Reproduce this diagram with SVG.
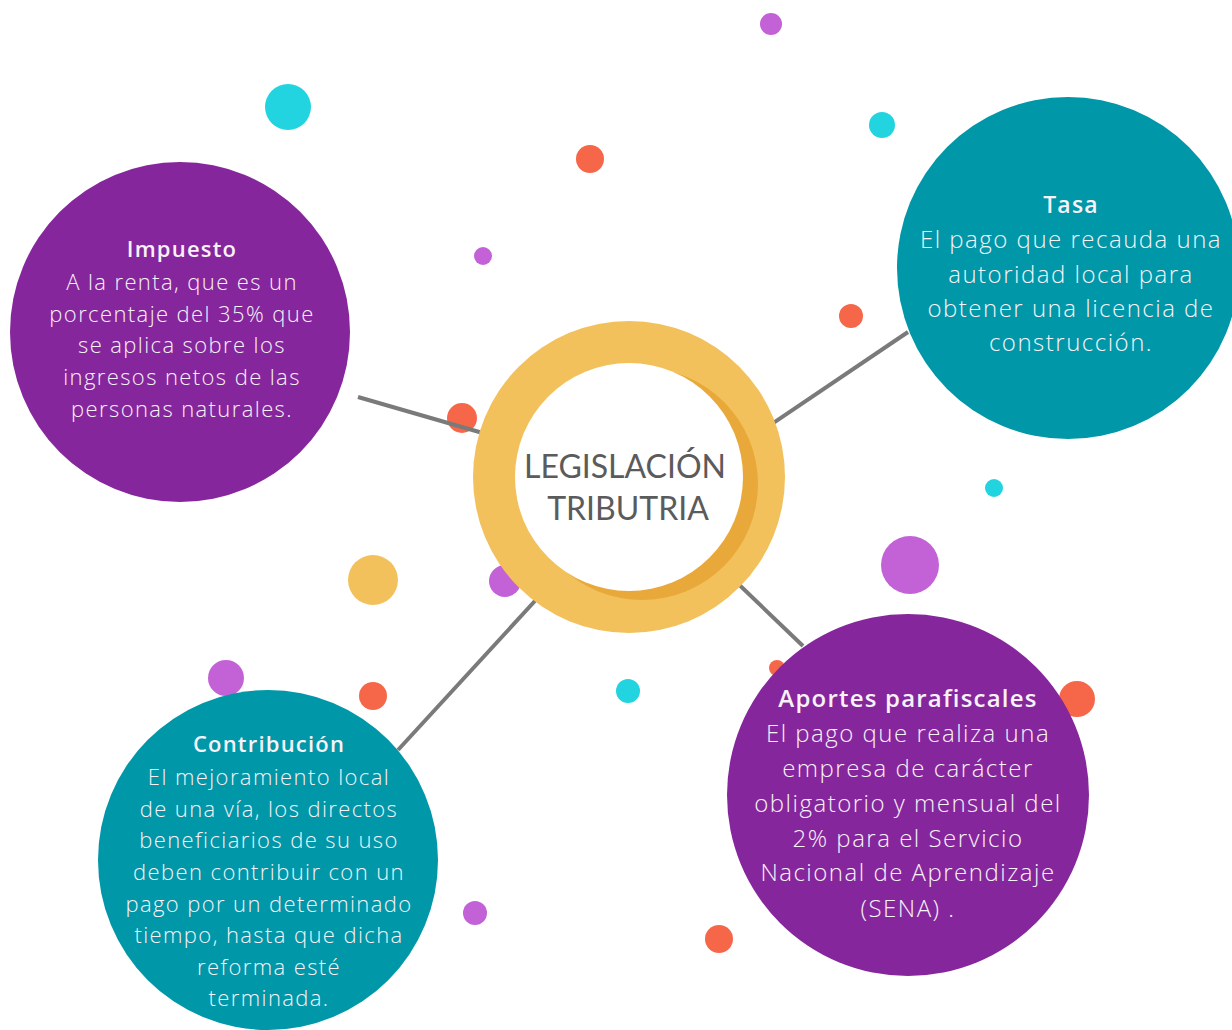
<svg xmlns="http://www.w3.org/2000/svg" width="1232" height="1030" viewBox="0 0 1232 1030">
  <style>
    .conn { stroke: #7a7a7a; stroke-width: 4; fill: none; }
    .dot-o { fill: #f6674a; }
    .dot-p { fill: #c262d6; }
    .dot-c { fill: #22d4e0; }
    .dot-y { fill: #f3c15c; }
    .node-p { fill: #86269c; }
    .node-t { fill: #0097a8; }
    .title { font-family: "Open Sans", "Lato", sans-serif; font-weight: 600; fill: #f7f2f8; text-anchor: middle; letter-spacing: 1.2px; }
    .body { font-family: "Open Sans", "Lato", sans-serif; font-weight: 300; fill: #f7f2f8; text-anchor: middle; }
    .sm { font-size: 22px; letter-spacing: 1.4px; }
    .lg { font-size: 24px; letter-spacing: 1.5px; }
    .center { font-family: "Lato", "Open Sans", sans-serif; font-weight: 400; fill: #5b5b5b; text-anchor: middle; font-size: 32px; }
  </style>
  <rect width="1232" height="1030" fill="#ffffff"/>

  <!-- dots drawn beneath the connectors and nodes -->
  <g id="dots-back">
    <circle class="dot-p" cx="505" cy="581" r="16"/>
    <circle class="dot-o" cx="462" cy="418" r="15"/>
    <circle class="dot-p" cx="226" cy="678" r="18"/>
    <circle class="dot-o" cx="777" cy="668" r="8"/>
    <circle class="dot-o" cx="1077" cy="699" r="18"/>
  </g>

  <g id="connectors">
    <line class="conn" x1="358" y1="397" x2="500" y2="438"/>
    <line class="conn" x1="908" y1="332" x2="760" y2="432"/>
    <line class="conn" x1="398" y1="750" x2="545" y2="590"/>
    <line class="conn" x1="803" y1="646" x2="730" y2="576"/>
  </g>

  <g id="dots">
    <circle class="dot-p" cx="771" cy="24" r="11"/>
    <circle class="dot-c" cx="288" cy="107" r="23"/>
    <circle class="dot-c" cx="882" cy="125" r="13"/>
    <circle class="dot-o" cx="590" cy="159" r="14"/>
    <circle class="dot-p" cx="483" cy="256" r="9"/>
    <circle class="dot-o" cx="851" cy="316" r="12"/>
    <circle class="dot-c" cx="994" cy="488" r="9"/>
    <circle class="dot-p" cx="910" cy="565" r="29"/>
    <circle class="dot-y" cx="373" cy="580" r="25"/>
    <circle class="dot-o" cx="373" cy="696" r="14"/>
    <circle class="dot-c" cx="628" cy="691" r="12"/>
    <circle class="dot-p" cx="475" cy="913" r="12"/>
    <circle class="dot-o" cx="719" cy="939" r="14"/>
  </g>

  <g id="node-center">
    <circle cx="629" cy="477" r="156" fill="#f3c15c"/>
    <circle cx="642" cy="484" r="116" fill="#e9a93a"/>
    <circle cx="629" cy="477" r="114" fill="#ffffff"/>
    <text class="center" x="625" y="478">LEGISLACIÓN</text>
    <text class="center" x="628" y="520">TRIBUTRIA</text>
  </g>

  <g id="node-impuesto">
    <circle class="node-p" cx="180" cy="332" r="170"/>
    <text class="title" x="182" y="257" font-size="22">Impuesto</text>
    <g class="body sm">
      <text x="182" y="290">A la renta, que es un</text>
      <text x="182" y="322">porcentaje del 35% que</text>
      <text x="182" y="353">se aplica sobre los</text>
      <text x="182" y="385">ingresos netos de las</text>
      <text x="182" y="417">personas naturales.</text>
    </g>
  </g>

  <g id="node-tasa">
    <circle class="node-t" cx="1068" cy="268" r="171"/>
    <text class="title" x="1071" y="213" font-size="23">Tasa</text>
    <g class="body lg">
      <text x="1071" y="248">El pago que recauda una</text>
      <text x="1071" y="283">autoridad local para</text>
      <text x="1071" y="317">obtener una licencia de</text>
      <text x="1071" y="351">construcción.</text>
    </g>
  </g>

  <g id="node-aportes">
    <circle class="node-p" cx="908" cy="795" r="181"/>
    <text class="title" x="908" y="707" font-size="24">Aportes parafiscales</text>
    <g class="body lg">
      <text x="908" y="742">El pago que realiza una</text>
      <text x="908" y="777">empresa de carácter</text>
      <text x="908" y="812">obligatorio y mensual del</text>
      <text x="908" y="847">2% para el Servicio</text>
      <text x="908" y="881">Nacional de Aprendizaje</text>
      <text x="908" y="917">(SENA) .</text>
    </g>
  </g>

  <g id="node-contribucion">
    <circle class="node-t" cx="268" cy="860" r="170"/>
    <text class="title" x="269" y="752" font-size="22">Contribución</text>
    <g class="body sm">
      <text x="269" y="785">El mejoramiento local</text>
      <text x="269" y="817">de una vía, los directos</text>
      <text x="269" y="848">beneficiarios de su uso</text>
      <text x="269" y="880">deben contribuir con un</text>
      <text x="269" y="912">pago por un determinado</text>
      <text x="269" y="943">tiempo, hasta que dicha</text>
      <text x="269" y="975">reforma esté</text>
      <text x="269" y="1006">terminada.</text>
    </g>
  </g>
</svg>
